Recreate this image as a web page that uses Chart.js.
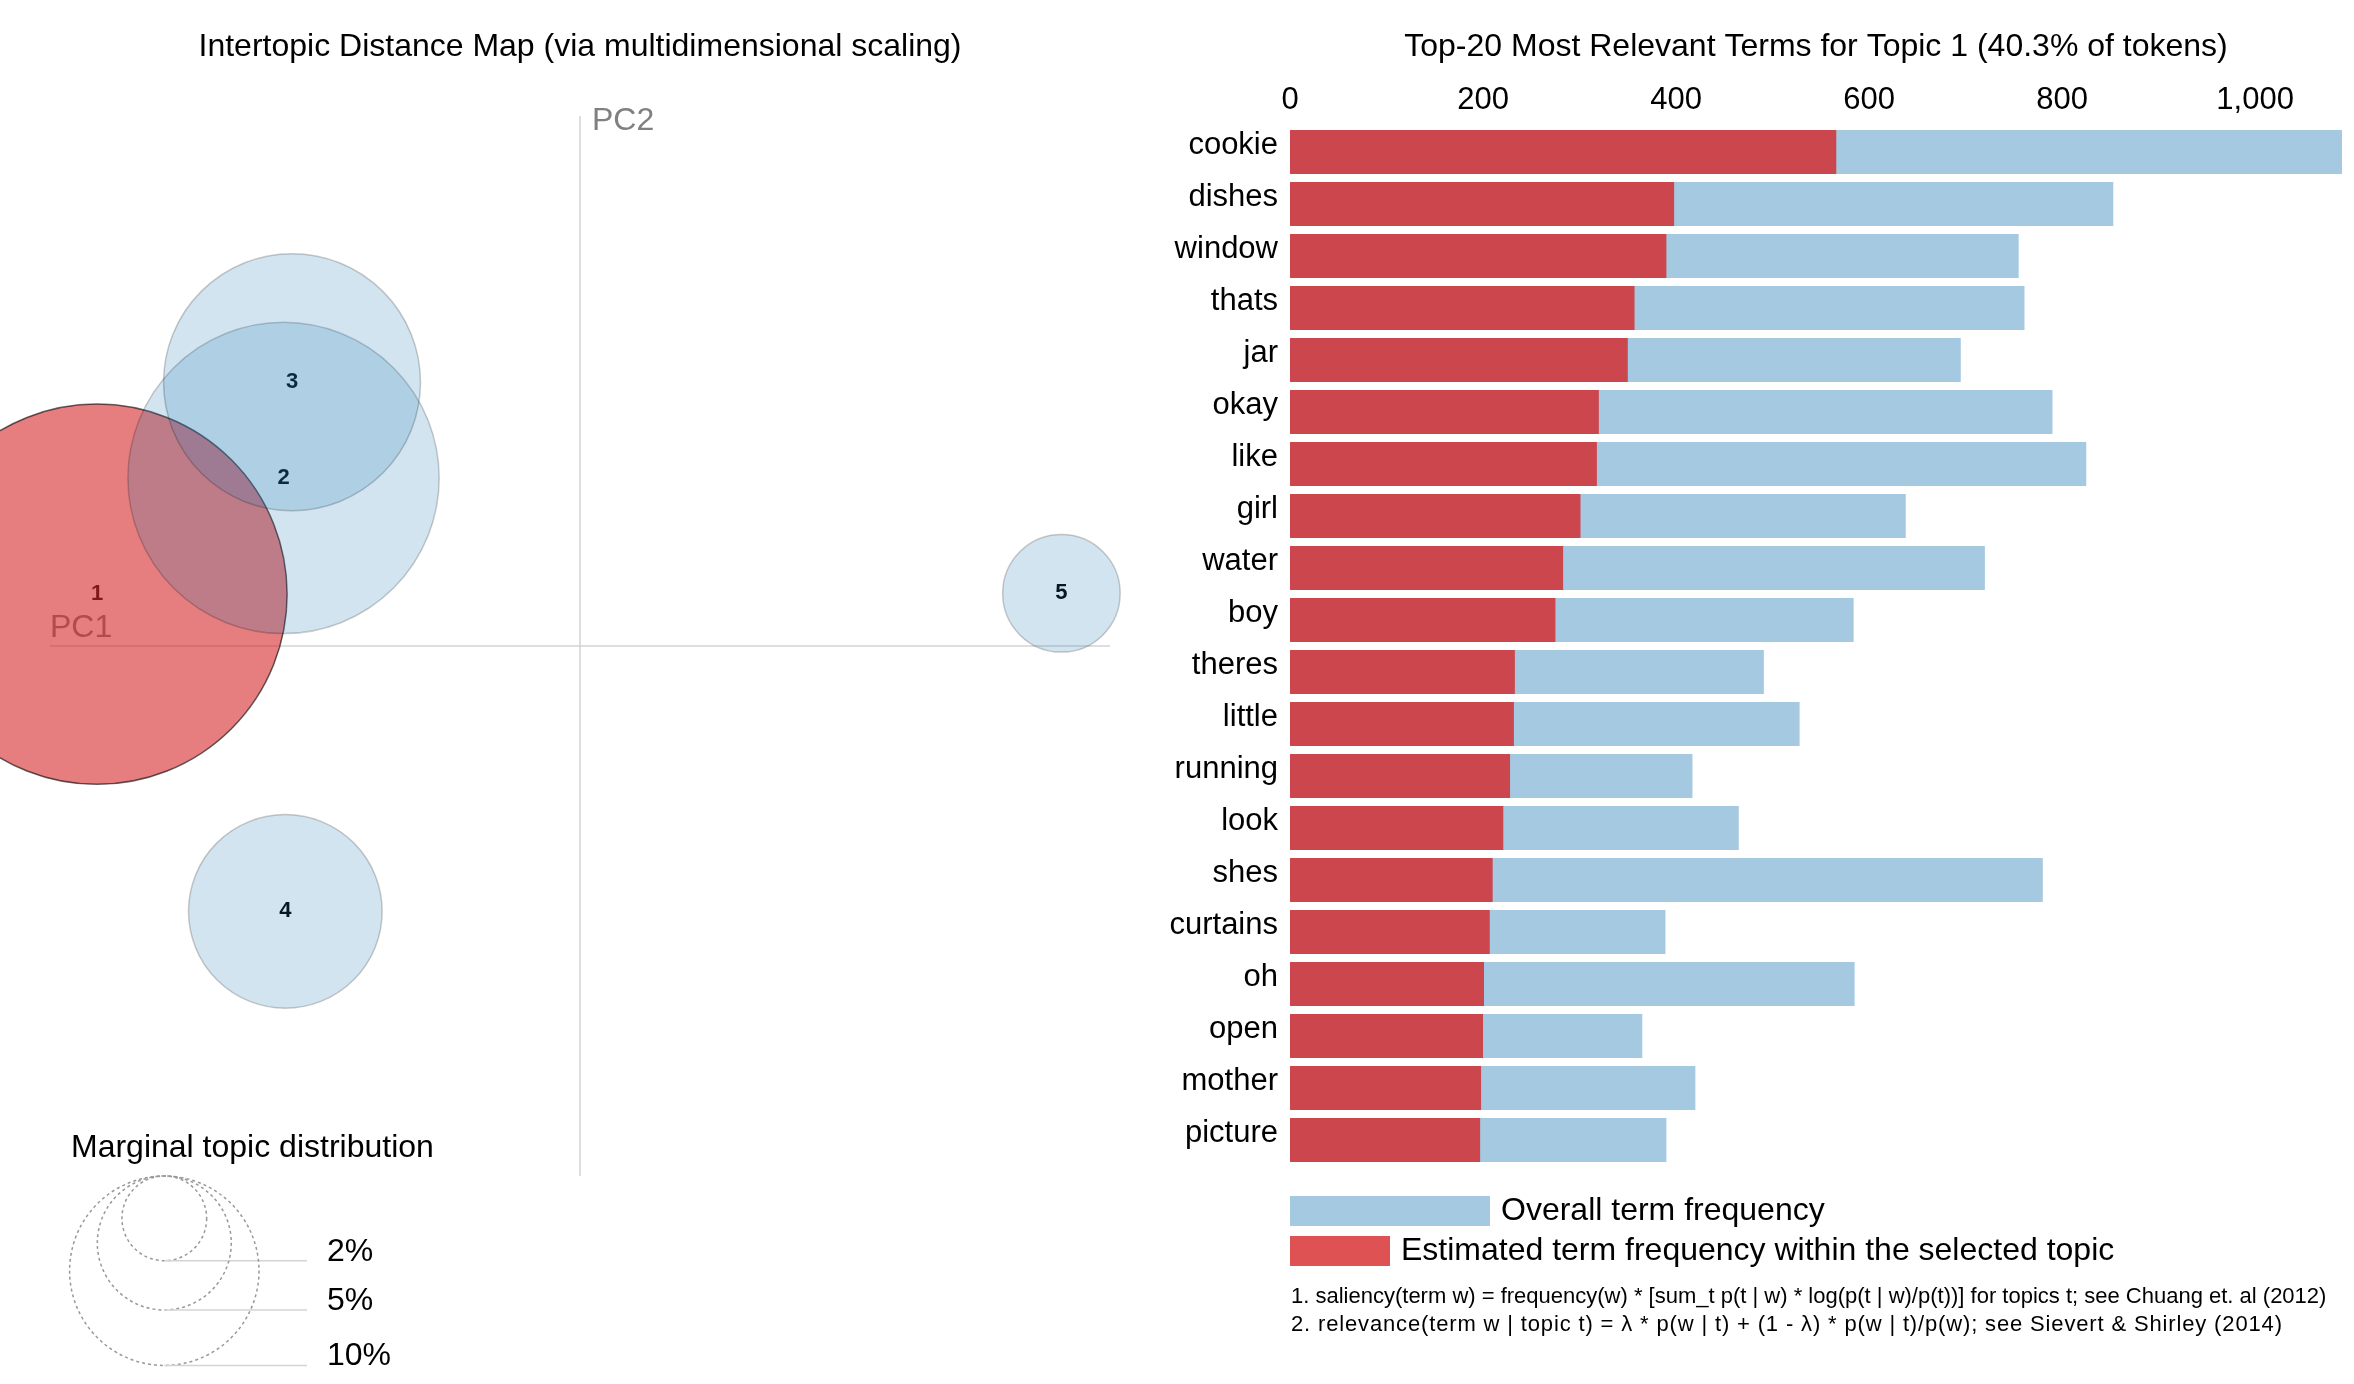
<!DOCTYPE html>
<html><head><meta charset="utf-8">
<script src="https://cdn.jsdelivr.net/npm/chart.js@4.4.1/dist/chart.umd.min.js"></script>
<style>
html,body{margin:0;padding:0;background:#fff;width:2354px;height:1384px;overflow:hidden}
#left{position:absolute;left:0;top:0;width:1150px;height:1384px}
#right{position:absolute;left:1150px;top:0;width:1204px;height:1384px}
</style></head><body>
<div id="left"><canvas id="mds"></canvas></div>
<div id="right"><canvas id="bars"></canvas></div>
<script>
// ---- Intertopic distance map data ----
const topicIds   = ['1', '2', '3', '4', '5'];
const topicPC1   = [-0.2734, -0.1678, -0.1630, -0.1668, 0.2725];
const topicPC2   = [0.0293, 0.0951, 0.1493, -0.1502, 0.0298];
const topicShare = [40.3, 27.0, 18.4, 10.45, 3.85];   // % of tokens
const selectedTopic = 0;
const legendShares = [2, 5, 10];
const legendLabels = ['2%', '5%', '10%'];

// ---- Top-20 relevant terms for topic 1 ----
const terms = ['cookie','dishes','window','thats','jar','okay','like','girl','water','boy',
               'theres','little','running','look','shes','curtains','oh','open','mother','picture'];
const termTotal   = [1090, 853, 755, 761, 695, 790, 825, 638, 720, 584,
                     491, 528, 417, 465, 780, 389, 585, 365, 420, 390];
const termInTopic = [566, 398, 390, 357, 350, 320, 318, 301, 283, 275,
                     233, 232, 228, 221, 210, 207, 201, 200, 198, 197];
const xTickStep = 200;

const FONT = '"Liberation Sans", Arial, Helvetica, sans-serif';
Chart.defaults.font.family = FONT;
Chart.defaults.color = '#000';

const radiusScale = p => 29.95 * Math.sqrt(p);   // px radius for a % share

const mdsPlugin = {
  id: 'mdsDecor',
  beforeDatasetsDraw(chart) {
    const {ctx, chartArea: ca, scales: {x, y}} = chart;
    const x0 = x.getPixelForValue(0), y0 = y.getPixelForValue(0);
    ctx.save();
    ctx.strokeStyle = '#d4d4d4'; ctx.lineWidth = 1.5;
    ctx.beginPath();
    ctx.moveTo(ca.left, y0); ctx.lineTo(ca.right, y0);
    ctx.moveTo(x0, ca.top); ctx.lineTo(x0, ca.bottom);
    ctx.stroke();
    ctx.fillStyle = '#808080';
    ctx.font = '32px ' + FONT;
    ctx.textAlign = 'left'; ctx.textBaseline = 'alphabetic';
    ctx.fillText('PC1', ca.left, y0 - 9);
    ctx.fillText('PC2', x0 + 12, ca.top + 14);
    ctx.fillStyle = '#000';
    ctx.font = 'bold 22px ' + FONT;
    ctx.textAlign = 'center'; ctx.textBaseline = 'middle';
    topicIds.forEach((t, i) => ctx.fillText(t, x.getPixelForValue(topicPC1[i]), y.getPixelForValue(topicPC2[i])));
    ctx.restore();
  },
  afterDraw(chart) {
    const {ctx, chartArea: ca} = chart;
    ctx.save();
    ctx.fillStyle = '#000';
    ctx.font = '32px ' + FONT;
    ctx.textAlign = 'left'; ctx.textBaseline = 'alphabetic';
    ctx.fillText('Marginal topic distribution', 71, ca.bottom - 19);
    const cx = 164.3, top = ca.bottom;
    ctx.lineWidth = 1.5;
    legendShares.forEach((p, i) => {
      const r = radiusScale(p);
      ctx.setLineDash([3, 3]);
      ctx.strokeStyle = '#999';
      ctx.beginPath(); ctx.arc(cx, top + r, r, 0, Math.PI * 2); ctx.stroke();
      ctx.setLineDash([]);
      ctx.strokeStyle = '#d4d4d4';
      ctx.beginPath(); ctx.moveTo(cx, top + 2 * r); ctx.lineTo(307, top + 2 * r); ctx.stroke();
      ctx.fillText(legendLabels[i], 327, top + 2 * r);
    });
    ctx.restore();
  }
};

new Chart(document.getElementById('mds'), {
  type: 'bubble',
  data: {
    datasets: [{
      label: 'Topics',
      data: topicIds.map((t, i) => ({x: topicPC1[i], y: topicPC2[i], r: radiusScale(topicShare[i])})),
      backgroundColor: topicIds.map((t, i) => i === selectedTopic ? 'rgba(214,39,40,0.6)' : 'rgba(31,119,180,0.2)'),
      borderColor: topicIds.map((t, i) => i === selectedTopic ? 'rgba(0,0,0,0.6)' : 'rgba(0,0,0,0.2)'),
      borderWidth: 1.5,
      clip: false
    }]
  },
  options: {
    responsive: true, maintainAspectRatio: false, animation: false, events: [],
    layout: {autoPadding: false, padding: {left: 50, right: 40, top: 28, bottom: 208}},
    scales: {
      x: {type: 'linear', min: -0.3, max: 0.3, display: false},
      y: {type: 'linear', min: -0.3, max: 0.3, display: false}
    },
    plugins: {
      legend: {display: false}, tooltip: {enabled: false},
      title: {display: true, text: 'Intertopic Distance Map (via multidimensional scaling)',
              fullSize: false, color: '#000', font: {size: 32, weight: 'normal'},
              padding: {top: 0, bottom: 49.6}}
    }
  },
  plugins: [mdsPlugin]
});

const barDecor = {
  id: 'barDecor',
  afterDraw(chart) {
    const {ctx, chartArea: ca} = chart;
    const ds = chart.data.datasets;
    ctx.save();
    ctx.fillStyle = ds[1].backgroundColor; ctx.fillRect(ca.left, ca.bottom + 30, 200, 30);
    ctx.fillStyle = ds[0].backgroundColor; ctx.fillRect(ca.left, ca.bottom + 70, 100, 30);
    ctx.fillStyle = '#000';
    ctx.font = '32px ' + FONT;
    ctx.textAlign = 'left'; ctx.textBaseline = 'middle';
    ctx.fillText(ds[1].label, ca.left + 211, ca.bottom + 45);
    ctx.fillText(ds[0].label, ca.left + 111, ca.bottom + 85);
    ctx.font = '22px ' + FONT;
    ctx.fillText('1. saliency(term w) = frequency(w) * [sum_t p(t | w) * log(p(t | w)/p(t))] for topics t; see Chuang et. al (2012)', ca.left + 1, ca.bottom + 131);
    ctx.letterSpacing = '0.85px';
    ctx.fillText('2. relevance(term w | topic t) = \u03bb * p(w | t) + (1 - \u03bb) * p(w | t)/p(w); see Sievert & Shirley (2014)', ca.left + 1, ca.bottom + 159);
    ctx.restore();
  }
};

new Chart(document.getElementById('bars'), {
  type: 'bar',
  data: {
    labels: terms,
    datasets: [
      {label: 'Estimated term frequency within the selected topic', data: termInTopic,
       backgroundColor: 'rgba(214,39,40,0.8)', order: 0, grouped: false,
       categoryPercentage: 0.846, barPercentage: 1},
      {label: 'Overall term frequency', data: termTotal,
       backgroundColor: 'rgba(31,119,180,0.4)', order: 1, grouped: false,
       categoryPercentage: 0.846, barPercentage: 1}
    ]
  },
  options: {
    indexAxis: 'y',
    responsive: true, maintainAspectRatio: false, animation: false, events: [],
    layout: {padding: {left: 0, right: 12, top: 28, bottom: 218}},
    scales: {
      x: {position: 'top', min: 0, max: Math.max(...termTotal),
          grid: {display: false, drawTicks: false}, border: {display: false},
          ticks: {stepSize: xTickStep, includeBounds: false, padding: 7, color: '#000', font: {size: 31}},
          afterFit: s => { s.height = 59.6; }},
      y: {grid: {display: false, drawTicks: false}, border: {display: false},
          ticks: {autoSkip: false, padding: 12, labelOffset: -7, color: '#000', font: {size: 31}},
          afterFit: s => { s.width = 140; }}
    },
    plugins: {
      legend: {display: false}, tooltip: {enabled: false},
      title: {display: true, text: 'Top-20 Most Relevant Terms for Topic 1 (40.3% of tokens)',
              fullSize: false, color: '#000', font: {size: 32, weight: 'normal'},
              padding: {top: 0, bottom: 0}}
    }
  },
  plugins: [barDecor]
});
</script>
</body></html>
